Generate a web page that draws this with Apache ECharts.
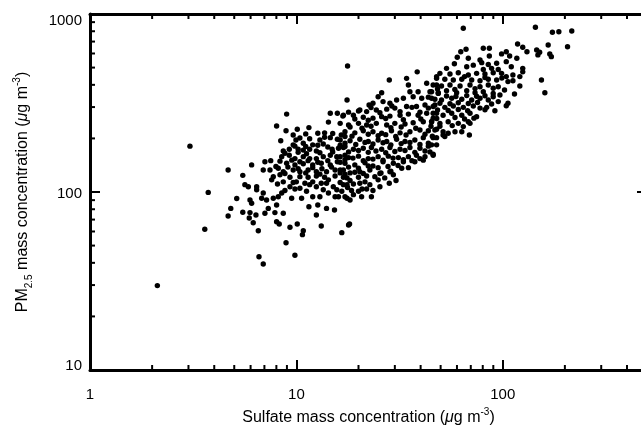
<!DOCTYPE html>
<html><head><meta charset="utf-8">
<script src="https://cdn.jsdelivr.net/npm/echarts@6/dist/echarts.min.js"></script>
<style>html,body{margin:0;padding:0;background:#fff}#c{width:641px;height:430px}</style>
</head><body><div id="c"></div><script>
// axis ranges and ticks
const X_MIN = 1, X_MAX = 500, Y_MIN = 10, Y_MAX = 1000;
const xTickLabels = [1, 10, 100];
const yTickLabels = [10, 100, 1000];
const xMinorTicks = [2,3,4,5,6,7,8,9,20,30,40,50,60,70,80,90,200,300,400];
const yMinorTicks = [20,30,40,50,60,70,80,90,200,300,400,500,600,700,800,900];

// [sulfate, PM2.5] pairs
const sparseLowEnd = [[3.05,181],[4.67,133],[6.07,142],[5.50,124],[3.74,99.5],[5.63,110],[5.85,107],[6.42,107],[6.42,103],[5.14,92],[5.96,90.2],[6.07,86.4],[4.81,80.9],[4.67,73.3],[5.50,76.9],[5.96,76.6],[5.91,71.4],[6.37,74.2],[6.18,67.2],[3.60,61.8],[6.54,60.6],[6.59,43.3],[2.12,29.8],[6.91,39.4]];
const band7to18 = [[17.6,329],[8.97,274],[14.6,277],[15.8,277],[16.8,267],[14.3,247],[8.02,235],[8.91,221],[10.1,225],[11.5,230],[9.65,209],[12.7,214],[13.7,215],[8.40,194],[9.95,196],[13.0,196],[14.6,202],[15.8,198],[17.2,205],[9.65,184],[10.8,188],[12.0,184],[13.5,186],[8.64,170],[9.24,174],[10.2,174],[10.8,172],[11.6,174],[12.5,170],[14.9,174],[16.0,176],[17.2,180],[8.49,158],[9.24,161],[9.84,154],[10.8,158],[11.6,154],[12.5,154],[13.5,158],[14.6,161],[15.7,158],[17.2,161],[7.04,148],[7.51,150],[7.96,139],[8.97,145],[9.84,142],[10.8,144],[12.0,142],[13.2,145],[14.6,142],[15.8,148],[17.2,145],[6.91,133],[7.45,133],[8.64,130],[9.65,133],[10.4,130],[11.4,133],[12.5,130],[14.0,130],[15.4,133],[16.9,133],[7.73,122],[8.33,125],[9.31,121],[10.4,122],[11.4,121],[12.5,123],[13.7,121],[15.4,123],[16.9,121],[7.59,117],[8.64,114],[10.0,114],[11.0,112],[12.0,114],[13.2,112],[14.3,117],[16.3,113],[9.31,107],[10.4,105],[12.5,107],[15.1,107],[17.6,110],[15.7,103],[11.2,101],[14.3,98.7],[15.4,94.1],[6.91,98.7],[6.79,92.2],[8.49,98.7],[8.17,94.1],[7.73,92.2],[9.49,92.2],[10.6,92.2],[12.0,94.1],[13.0,94.1],[16.0,94.1],[17.6,92.2],[7.17,90.2],[8.02,84.6],[11.5,82.7],[12.7,84.6],[14.0,80.9],[15.3,79.2],[7.04,75.9],[7.31,80.9],[7.87,76.6],[8.64,75.9],[12.5,74.2],[8.02,68.1],[8.26,66.1],[9.31,63.4],[10.1,66.1],[13.2,64.4],[17.9,65.3],[10.8,60.6],[10.7,57.6],[16.6,59.1],[8.91,51.9],[9.84,44.1]];
const core8to17 = [[11.1,212],[15.0,213],[10.4,201],[11.6,199],[13.7,203],[9.84,181],[11.1,180],[12.7,183],[14.2,179],[16.3,183],[8.8,165],[10.2,167],[11.2,164],[13.0,166],[15.0,168],[8.33,149],[9.5,151],[10.4,148],[11.4,150],[12.7,147],[14.2,150],[16.3,147],[8.17,136],[9.1,138],[10.2,135],[12.0,137],[13.3,135],[14.8,138],[8.8,127],[11.1,128],[13.0,126],[16.3,128],[8.1,111],[9.65,113],[11.6,110],[14.0,112],[8.8,102],[9.84,104],[13.5,103]];
const band17to50 = [[17.7,510],[28.2,426],[38.5,473],[47.8,445],[34.2,435],[34.9,399],[25.9,361],[24.9,343],[35.5,366],[38.9,366],[42.8,408],[45.2,366],[47.8,399],[48.7,358],[22.5,308],[23.5,315],[26.3,322],[28.4,315],[30.6,329],[33.0,336],[36.8,343],[40.5,336],[43.6,341],[46.9,332],[20.3,289],[21.9,283],[24.4,289],[27.4,292],[30.0,296],[34.2,302],[38.2,302],[42.0,308],[46.0,302],[16.9,270],[18.9,270],[21.1,263],[23.5,260],[25.9,265],[28.4,267],[31.8,270],[34.9,274],[38.9,270],[42.8,277],[47.8,277],[16.3,243],[17.9,238],[20.0,243],[21.9,238],[24.4,243],[27.4,238],[30.0,243],[33.6,241],[36.8,245],[41.2,248],[45.2,248],[17.2,218],[19.2,215],[21.1,221],[23.5,218],[25.9,214],[28.9,221],[31.8,215],[35.5,218],[39.7,223],[43.6,221],[47.8,225],[16.3,196],[18.2,194],[20.3,198],[22.3,192],[24.9,196],[27.4,192],[30.6,198],[33.6,192],[37.5,196],[41.2,202],[46.0,202],[16.9,178],[18.9,174],[21.1,176],[23.1,178],[25.9,174],[28.4,178],[31.8,174],[35.5,178],[39.7,176],[43.6,181],[47.8,184],[16.3,158],[17.9,156],[20.0,159],[22.3,154],[24.9,158],[27.9,159],[31.2,156],[34.9,158],[38.2,161],[42.0,158],[46.0,163],[19.2,142],[21.5,146],[23.5,140],[26.3,148],[29.5,145],[33.0,148],[37.5,148],[41.2,151],[16.3,133],[18.2,128],[20.3,130],[22.7,133],[25.4,127],[28.4,130],[32.4,136],[17.6,120],[20.0,121],[21.9,123],[24.0,122],[26.8,120],[29.5,125],[30.4,116],[28.2,112],[16.9,110],[18.9,111],[20.3,112],[22.7,110],[16.6,101],[18.5,102],[20.0,101],[21.9,104],[23.5,102],[17.2,94.1],[18.9,96.6],[20.7,94.1],[23.1,94.1],[18.2,90.2],[18.1,66.1]];
const core17to46 = [[23.0,298],[29.0,304],[36.3,299],[43.6,296],[17.9,281],[20.0,285],[25.4,279],[31.8,283],[39.7,281],[19.2,257],[22.3,253],[27.1,259],[33.0,255],[40.1,257],[46.0,260],[18.2,232],[20.8,228],[23.0,234],[28.7,230],[32.2,232],[37.9,228],[44.9,234],[16.5,209],[18.6,206],[22.3,211],[24.9,207],[27.1,210],[30.3,205],[34.0,209],[42.0,211],[45.6,206],[17.2,188],[19.4,185],[21.5,190],[23.5,186],[26.3,189],[28.7,184],[32.2,187],[35.5,190],[39.7,185],[43.6,188],[17.9,168],[20.0,171],[22.3,167],[24.3,170],[27.1,166],[30.0,169],[33.6,171],[37.5,167],[42.0,170],[17.2,152],[18.8,155],[21.1,150],[23.5,153],[26.3,151],[29.4,155],[33.0,152],[36.3,150],[39.7,154],[17.9,138],[20.0,136],[22.3,140],[24.9,137],[27.8,139],[31.1,141],[34.9,137],[17.2,126],[19.2,129],[21.1,127],[25.7,128],[28.7,131],[18.2,116],[21.5,114],[24.9,117],[17.7,106],[20.8,104],[25.4,107]];
const band45to130 = [[64.4,831],[118,679],[125,650],[131,614],[80.5,642],[86.1,642],[66.4,634],[62.6,614],[86.1,581],[98.7,597],[104,614],[108,581],[117,564],[60.2,571],[68.1,564],[77.6,552],[79.1,533],[93.4,529],[104,540],[53.4,495],[66.9,505],[72.0,516],[80.5,488],[88.3,495],[95.1,488],[110,505],[125,495],[125,473],[49.6,464],[55.5,460],[60.9,468],[68.1,454],[74.7,464],[82.0,460],[89.9,468],[98.7,464],[104,445],[112,454],[121,445],[47.8,435],[52.4,430],[57.6,426],[63.3,430],[70.7,426],[77.6,422],[85.1,430],[93.4,426],[106,417],[112,422],[121,394],[46.0,399],[50.5,394],[55.5,399],[62.1,394],[69.4,399],[77.6,390],[85.1,399],[95.1,390],[102,374],[114,355],[44.4,366],[48.7,361],[53.4,371],[59.8,361],[66.9,371],[73.4,361],[80.5,366],[89.9,358],[96.9,351],[45.2,336],[50.5,329],[56.6,336],[63.3,332],[70.7,329],[77.6,336],[85.1,329],[95.1,322],[106,315],[83.6,299],[91.6,286],[46.9,308],[52.4,299],[57.6,304],[64.4,299],[72.0,304],[77.6,296],[46.0,277],[51.4,270],[56.6,277],[63.3,270],[69.4,277],[74.7,265],[45.2,248],[49.6,243],[54.4,248],[60.9,243],[68.1,248],[64.4,233],[46.9,223],[51.4,218],[58.7,218],[68.9,209],[47.8,202],[52.4,205],[45.2,184],[44.4,168],[46.0,161],[104,305],[69.4,243],[51.4,209],[54.4,214],[63.3,218]];
const core46to90 = [[58.3,525],[85.1,520],[65.3,445],[82.0,440],[99.0,437],[48.3,379],[58.6,377],[73.4,381],[89.9,383],[53.4,346],[59.3,344],[66.9,348],[74.7,345],[82.0,347],[89.9,343],[49.6,315],[55.5,313],[60.9,317],[68.1,314],[75.5,318],[88.3,312],[48.3,289],[54.4,287],[60.9,291],[67.6,286],[82.0,290],[47.9,259],[58.7,262],[65.3,257],[72.5,260],[49.6,234],[56.9,236]];
const highTail = [[144,842],[174,789],[187,795],[216,803],[166,670],[206,655],[146,628],[148,589],[169,597],[172,576],[151,610],[154,426],[160,361]];

const FONT = '"Liberation Sans", Arial, Helvetica, sans-serif';
const points = [].concat(sparseLowEnd, band7to18, core8to17, band17to50, core17to46, band45to130, core46to90, highTail);

function matchTick(list, v) {
  for (const t of list) if (Math.abs(t - v) / t < 1e-6) return t;
  return null;
}
const tickStyle = { color: '#000', width: 2 };
const axisBase = {
  type: 'log', logBase: 10,
  axisLine: { show: true, onZero: false, lineStyle: { color: '#000', width: 3 } },
  axisTick: { show: true, inside: true, length: 10, lineStyle: tickStyle },
  minorTick: { show: false },
  splitLine: { show: false }
};
const richTitle = {
  sub: { fontSize: 10, lineHeight: 10, verticalAlign: 'bottom', fontFamily: FONT, color: '#000' },
  sup: { fontSize: 10, lineHeight: 10, verticalAlign: 'top', fontFamily: FONT, color: '#000' },
  mu: { fontSize: 16, fontStyle: 'italic', fontFamily: FONT, color: '#000' }
};

const chart = echarts.init(document.getElementById('c'), null, { renderer: 'canvas' });
chart.setOption({
  animation: false,
  backgroundColor: '#fff',
  grid: { left: 90, top: 14, width: 557, height: 356, containLabel: false, outerBoundsMode: 'none' },
  xAxis: [
    Object.assign({}, axisBase, {
      min: X_MIN, max: X_MAX, position: 'bottom',
      axisLabel: {
        show: true, margin: 17, fontSize: 15, fontFamily: FONT, color: '#000',
        formatter: v => { const t = matchTick(xTickLabels, v); return t === null ? '' : String(t); }
      },
      name: 'Sulfate mass concentration ({mu|μ}g m{sup|-3})',
      nameLocation: 'middle', nameGap: 37,
      nameTextStyle: { fontSize: 16, fontFamily: FONT, color: '#000', lineHeight: 22, rich: richTitle }
    }),
    Object.assign({}, axisBase, { min: X_MIN, max: X_MAX, position: 'top', axisLabel: { show: false } })
  ],
  yAxis: [
    Object.assign({}, axisBase, {
      min: Y_MIN, max: Y_MAX, position: 'left',
      axisLabel: {
        show: true, margin: 8, fontSize: 15, fontFamily: FONT, color: '#000',
        formatter: v => {
          const t = matchTick(yTickLabels, v);
          if (t === null) return '';
          if (t === 1000) return '{hi|1000}';
          if (t === 10) return '{lo|10}';
          return '{md|' + t + '}';
        },
        rich: {
          hi: { fontSize: 15, fontFamily: FONT, color: '#000', padding: [14, 0, 0, 0] },
          md: { fontSize: 15, fontFamily: FONT, color: '#000', padding: [4, 0, 0, 0] },
          lo: { fontSize: 15, fontFamily: FONT, color: '#000', padding: [0, 0, 8, 0] }
        }
      },
      name: 'PM{sub|2.5} mass concentration ({mu|μ}g m{sup|-3})',
      nameLocation: 'middle', nameGap: 56, nameRotate: 90,
      nameTextStyle: { fontSize: 16, fontFamily: FONT, color: '#000', lineHeight: 22, rich: richTitle }
    }),
    Object.assign({}, axisBase, { min: Y_MIN, max: Y_MAX, position: 'right', axisLabel: { show: false } })
  ],
  series: [
    {
      type: 'scatter', xAxisIndex: 0, yAxisIndex: 0,
      data: points, symbol: 'circle', symbolSize: 5.4,
      itemStyle: { color: '#000', opacity: 1 }, emphasis: { disabled: true }, silent: true, large: false
    },
    {
      type: 'custom', xAxisIndex: 0, yAxisIndex: 0, silent: true, clip: false,
      data: xMinorTicks.map(v => [v, Y_MIN]),
      renderItem: (params, api) => {
        const v = api.value(0);
        const b = api.coord([v, Y_MIN]), t = api.coord([v, Y_MAX]);
        return { type: 'group', children: [
          { type: 'line', shape: { x1: b[0], y1: b[1], x2: b[0], y2: b[1] - 5 }, style: { stroke: '#000', lineWidth: 2 } },
          { type: 'line', shape: { x1: t[0], y1: t[1], x2: t[0], y2: t[1] + 5 }, style: { stroke: '#000', lineWidth: 2 } }
        ] };
      }
    },
    {
      type: 'custom', xAxisIndex: 0, yAxisIndex: 0, silent: true, clip: false,
      data: yMinorTicks.map(v => [X_MIN, v]),
      renderItem: (params, api) => {
        const v = api.value(1);
        const l = api.coord([X_MIN, v]), r = api.coord([X_MAX, v]);
        return { type: 'group', children: [
          { type: 'line', shape: { x1: l[0], y1: l[1], x2: l[0] + 5, y2: l[1] }, style: { stroke: '#000', lineWidth: 2 } },
          { type: 'line', shape: { x1: r[0], y1: r[1], x2: r[0] - 5, y2: r[1] }, style: { stroke: '#000', lineWidth: 2 } }
        ] };
      }
    }
  ]
});
</script></body></html>
